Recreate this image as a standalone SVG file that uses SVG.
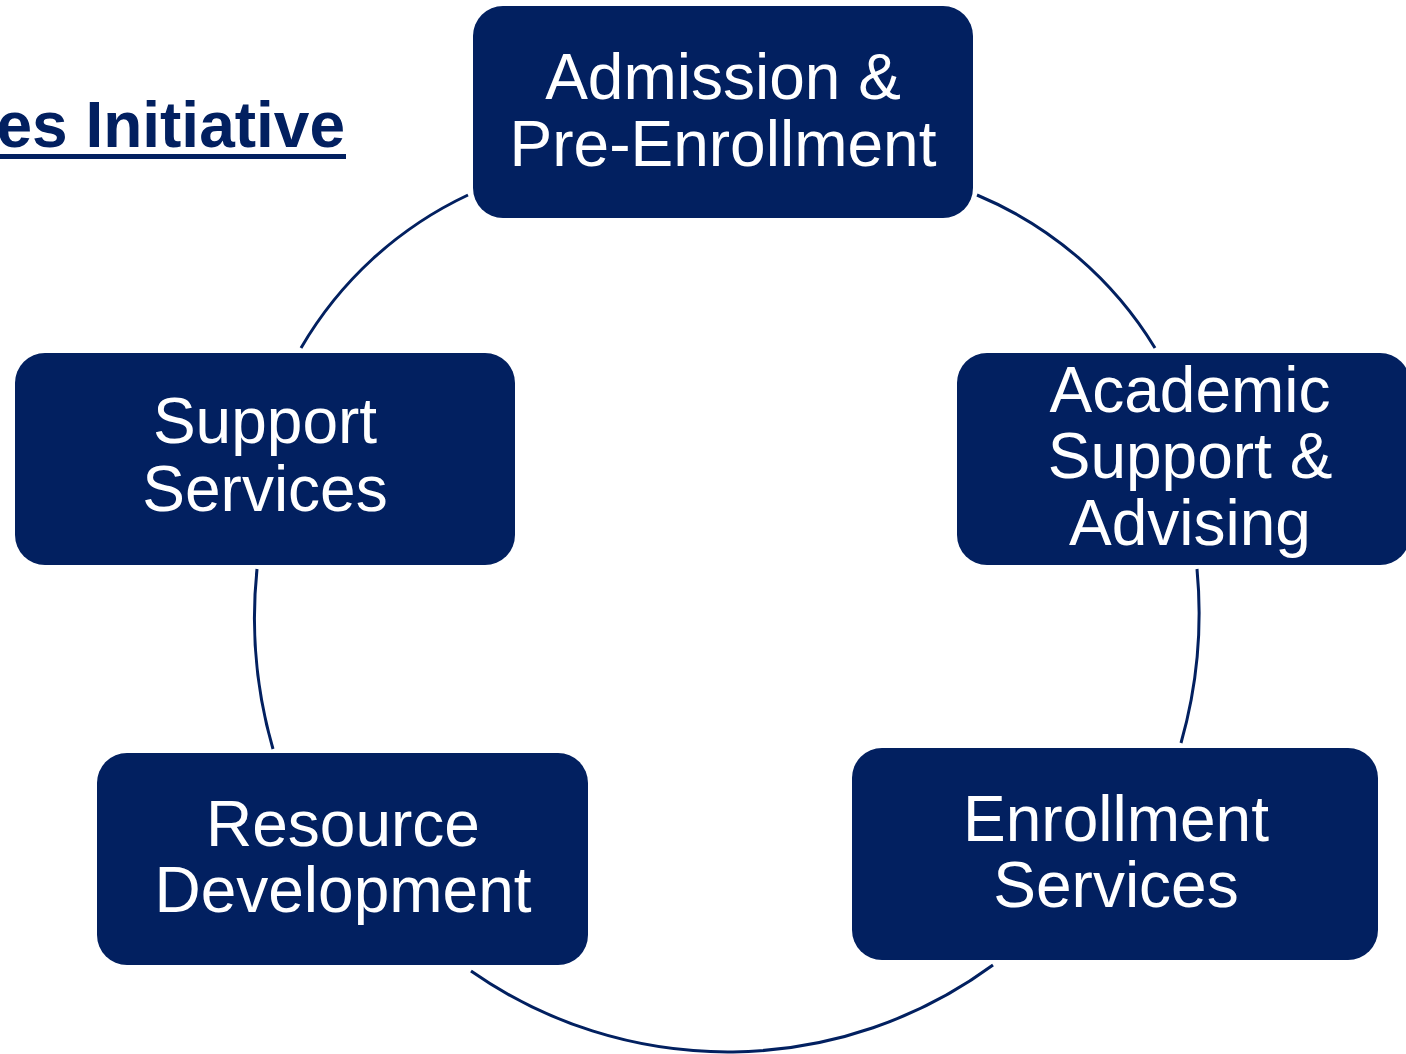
<svg xmlns="http://www.w3.org/2000/svg" width="1406" height="1054" viewBox="0 0 1406 1054">
  <style>
    .box { fill: #022060; }
    .lbl { fill: #ffffff; font-family: "Liberation Sans", Arial, sans-serif; font-size: 64px; text-anchor: middle; }
    .arc { fill: none; stroke: #022060; stroke-width: 3; }
    .title { fill: #022060; font-family: "Liberation Sans", Arial, sans-serif; font-size: 64px; font-weight: bold; text-anchor: end; }
  </style>
  <rect width="1406" height="1054" fill="#ffffff"/>
  <g id="title">
    <text class="title" x="345" y="147">es Initiative</text>
    <rect x="0" y="154" width="346" height="5" fill="#022060"/>
  </g>
  <g id="connectors">
    <path class="arc" d="M 977 195 A 380 380 0 0 1 1155 348"/>
    <path class="arc" d="M 1197 569 A 473 473 0 0 1 1181 743"/>
    <path class="arc" d="M 993 965 A 448 448 0 0 1 471 971"/>
    <path class="arc" d="M 273 749 A 473 473 0 0 1 257 569"/>
    <path class="arc" d="M 301 348 A 380 380 0 0 1 468 195"/>
  </g>
  <g id="node-admission">
    <rect class="box" x="473" y="6" width="500" height="212" rx="30"/>
    <text class="lbl" x="723" y="99">Admission &amp;</text>
    <text class="lbl" x="723" y="166">Pre-Enrollment</text>
  </g>
  <g id="node-academic">
    <rect class="box" x="957" y="353" width="453" height="212" rx="30"/>
    <text class="lbl" x="1190" y="412">Academic</text>
    <text class="lbl" x="1190" y="478">Support &amp;</text>
    <text class="lbl" x="1190" y="545">Advising</text>
  </g>
  <g id="node-enrollment">
    <rect class="box" x="852" y="748" width="526" height="212" rx="30"/>
    <text class="lbl" x="1116" y="841">Enrollment</text>
    <text class="lbl" x="1116" y="907">Services</text>
  </g>
  <g id="node-resource">
    <rect class="box" x="97" y="753" width="491" height="212" rx="30"/>
    <text class="lbl" x="343" y="846">Resource</text>
    <text class="lbl" x="343" y="912">Development</text>
  </g>
  <g id="node-support">
    <rect class="box" x="15" y="353" width="500" height="212" rx="30"/>
    <text class="lbl" x="265" y="443">Support</text>
    <text class="lbl" x="265" y="511">Services</text>
  </g>
</svg>
